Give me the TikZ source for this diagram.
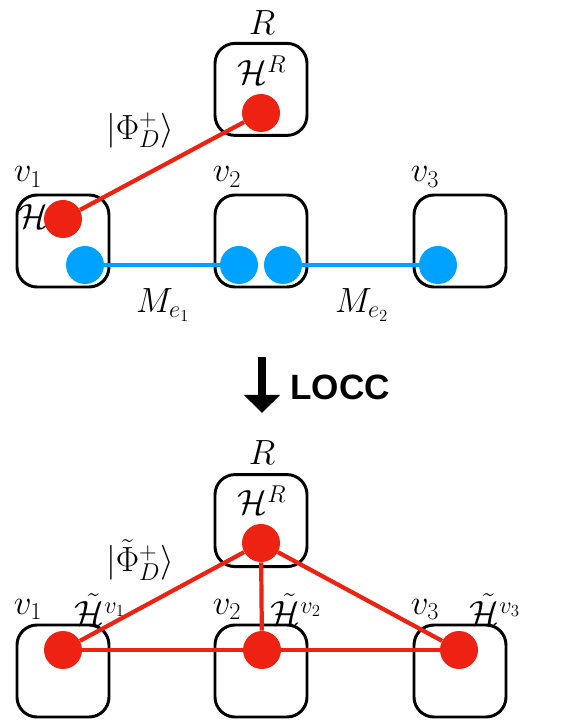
\documentclass[tikz,border=0pt]{standalone}
\usepackage{fontspec}
\newfontfamily\loccfont{Liberation Sans}
\usetikzlibrary{arrows.meta}
\definecolor{qred}{RGB}{237,34,18}
\definecolor{qblue}{RGB}{0,162,255}

\begin{document}
\begin{tikzpicture}[
  site/.style={draw,line width=2.1pt,rounded corners=0.5cm,minimum size=2.3cm},
  qdot/.style={circle,inner sep=0pt,minimum size=0.95cm},
  rdot/.style={qdot,fill=qred},
  bdot/.style={qdot,fill=qblue},
  lbl/.style={font=\fontsize{24}{28}\selectfont,inner sep=0pt},
  rlink/.style={qred,line width=3pt},
  blink/.style={qblue,line width=2.6pt}
]
\useasboundingbox (0,0) rectangle (14.025,18.125);

% ---- TOP: network before LOCC ----
\begin{scope}[shift={(0,10.75)}]
  \node[site] (tR) at (6.525,5.14) {};
  \node[site] (t1) at (1.575,1.35) {};
  \node[site] (t2) at (6.525,1.35) {};
  \node[site] (t3) at (11.5,1.35) {};

  \node[lbl] (tRlab) at (6.55,6.8) {$R$};
  \node[lbl] (tHR) at (6.55,5.62) {$\mathcal{H}^R$};
  \node[lbl] (tv1) at (0.7,2.95) {$v_1$};
  \node[lbl] (tv2) at (5.675,2.95) {$v_2$};
  \node[lbl] (tv3) at (10.625,2.95) {$v_3$};
  \node[lbl] (tH) at (0.83,1.95) {$\mathcal{H}$};
  \node[lbl] (tPhi) at (3.5,4.12) {$\left|\Phi_D^+\right\rangle$};
  \node[lbl] (tM1) at (4.075,-0.25) {$M_{e_1}$};
  \node[lbl] (tM2) at (9.05,-0.25) {$M_{e_2}$};

  % red pair R -- v1
  \node[rdot] (tdR) at (6.525,4.55) {};
  \node[rdot] (td1) at (1.575,1.9) {};
  \draw[rlink] (td1) -- (tdR);

  % blue edge pairs
  \node[bdot] (tb1) at (2.125,0.75) {};
  \node[bdot] (tb2a) at (5.975,0.75) {};
  \node[bdot] (tb2b) at (7.075,0.75) {};
  \node[bdot] (tb3) at (10.95,0.75) {};
  \draw[blink] (tb1) -- (tb2a);
  \draw[blink] (tb2b) -- (tb3);
\end{scope}

% ---- LOCC arrow ----
\coordinate (arrtop) at (6.55,9.2);
\coordinate (arrbot) at (6.55,7.8);
\draw[line width=0.2cm,-{Triangle[width=0.875cm,length=0.45cm]}] (arrtop) -- (arrbot);
\node[font=\loccfont\bfseries\fontsize{25}{28}\selectfont] (locc) at (8.5,8.45) {LOCC};

% ---- BOTTOM: network after LOCC ----
\node[site] (bR) at (6.525,5.11) {};
\node[site] (b1) at (1.575,1.35) {};
\node[site] (b2) at (6.525,1.35) {};
\node[site] (b3) at (11.5,1.35) {};

\node[lbl] (bRlab) at (6.55,6.8) {$R$};
\node[lbl] (bHR) at (6.55,5.62) {$\mathcal{H}^R$};
\node[lbl] (bv1) at (0.7,2.88) {$v_1$};
\node[lbl] (bv2) at (5.675,2.88) {$v_2$};
\node[lbl] (bv3) at (10.625,2.88) {$v_3$};
\node[lbl] (bH1) at (2.5,2.88) {$\tilde{\mathcal{H}}^{v_1}$};
\node[lbl] (bH2) at (7.4,2.88) {$\tilde{\mathcal{H}}^{v_2}$};
\node[lbl] (bH3) at (12.375,2.88) {$\tilde{\mathcal{H}}^{v_3}$};
\node[lbl] (bPhi) at (3.5,4.12) {$|\tilde{\Phi}_D^+\rangle$};

% red links to R and along the chain
\node[rdot] (bdR) at (6.525,4.55) {};
\node[rdot] (bd1) at (1.575,1.875) {};
\node[rdot] (bd2) at (6.55,1.875) {};
\node[rdot] (bd3) at (11.475,1.875) {};
\draw[rlink] (bd1) -- (bdR);
\draw[rlink] (bd2) -- (bdR);
\draw[rlink] (bd3) -- (bdR);
\draw[rlink] (bd1) -- (bd2);
\draw[rlink] (bd2) -- (bd3);

\end{tikzpicture}
\end{document}
